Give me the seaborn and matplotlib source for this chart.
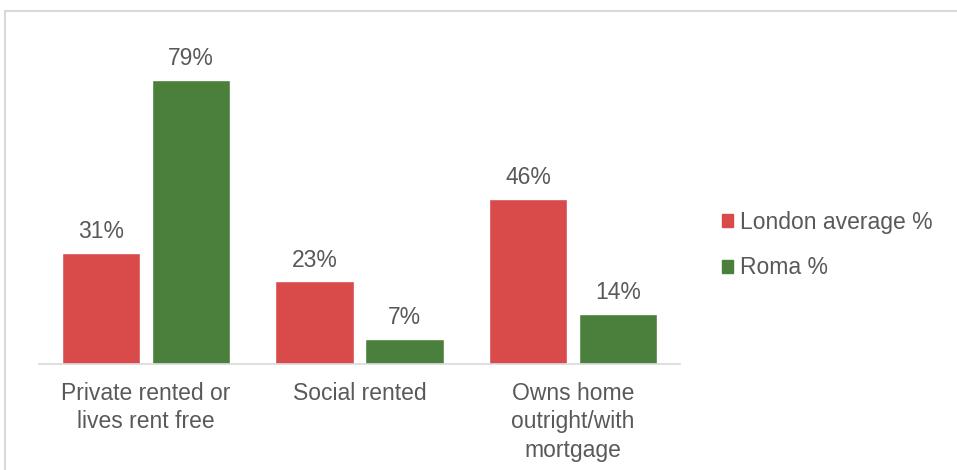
import pandas as pd
import seaborn as sns
import matplotlib.pyplot as plt
from matplotlib.patches import Rectangle

categories = ["Private rented or\nlives rent free", "Social rented", "Owns home\noutright/with\nmortgage"]
series = ["London average %", "Roma %"]
london = [31, 23, 46]
roma = [79, 7, 14]

df = pd.DataFrame({
    "tenure": categories * 2,
    "group": [series[0]] * 3 + [series[1]] * 3,
    "value": london + roma,
})

sns.set_theme(style="white")
plt.rcParams["font.family"] = ["Liberation Sans", "DejaVu Sans"]
text_col = "#595959"
fs = 16.5

fig = plt.figure(figsize=(9.57, 4.7), dpi=100)
ax = fig.add_axes([39 / 957, 0.2255, 641 / 957, 0.688])

sns.barplot(data=df, x="tenure", y="value", hue="group",
            palette=["#D94A4A", "#4A7F3C"], width=0.843, gap=0.133,
            ax=ax, legend=False, saturation=1)

for cont in ax.containers:
    ax.bar_label(cont, labels=[f"{v:.0f}%" for v in cont.datavalues],
                 padding=7, fontsize=fs, color=text_col)

ax.set_xlim(-0.5, 2.5)
ax.set_ylim(0, 90)
ax.set_xlabel("")
ax.set_ylabel("")
ax.set_yticks([])
ax.tick_params(axis="x", length=0, pad=13, labelsize=fs, labelcolor=text_col)
for lab in ax.get_xticklabels():
    lab.set_linespacing(1.3)
for s in ["top", "right", "left"]:
    ax.spines[s].set_visible(False)
ax.spines["bottom"].set_color("#d9d9d9")
ax.spines["bottom"].set_linewidth(1.2)

handles = [Rectangle((0, 0), 1, 1, color=c) for c in ["#D94A4A", "#4A7F3C"]]
fig.legend(handles, series, loc="center left", bbox_to_anchor=(701 / 957, 1 - 245 / 470),
           frameon=False, fontsize=fs, labelcolor=text_col, handlelength=0.5,
           handleheight=0.5, handletextpad=0.3, labelspacing=1.0)

fig.patches.append(Rectangle((5 / 957, -0.1), 1.2, 1.1 - 11 / 470,
                             transform=fig.transFigure, fill=False,
                             edgecolor="#d9d9d9", linewidth=1.5))

fig.savefig("out.png", dpi=100)
